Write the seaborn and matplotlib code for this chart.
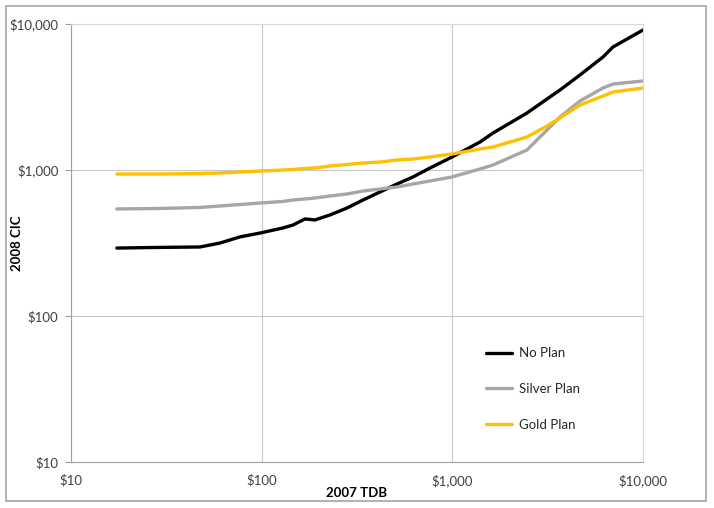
import numpy as np
import pandas as pd
import matplotlib
matplotlib.use("Agg")
import matplotlib.pyplot as plt
import matplotlib.ticker as mticker
from matplotlib.patches import Rectangle
import seaborn as sns

# ---- data ----
tdb_2007 = [17.4, 29.3, 47.5, 60.4, 76.9, 98.0, 129.4, 146.0, 168.7, 190.4,
            228.2, 280.3, 340.1, 417.4, 512.7, 621.9, 763.5, 996, 1397, 1634,
            2464, 3136, 3669, 4671, 6168, 6959, 10000]
no_plan = [292, 295, 297, 316, 348, 370, 401, 420, 462, 455,
           492, 549, 623, 707, 802, 896, 1032, 1227, 1555, 1792,
           2457, 3064, 3531, 4475, 5943, 6959, 9097]
silver_plan = [541, 545, 554, 567, 580, 594, 609, 623, 633, 643,
               664, 685, 718, 741, 765, 802, 841, 896, 1016, 1082,
               1371, 1879, 2307, 2969, 3645, 3882, 4071]
gold_plan = [939, 939, 946, 954, 969, 984, 1000, 1008, 1024, 1032,
             1065, 1091, 1117, 1134, 1171, 1189, 1227, 1287, 1393, 1437,
             1683, 2001, 2271, 2787, 3212, 3421, 3645]
series_names = ["No Plan", "Silver Plan", "Gold Plan"]
series_colors = ["#000000", "#a6a6a6", "#ffc000"]
x_ticks = [10, 100, 1000, 10000]
x_tick_labels = ["$10", "$100", "$1,000", "$10,000"]
y_ticks = [10, 100, 1000, 10000]
y_tick_labels = ["$10", "$100", "$1,000", "$10,000"]

df = pd.concat([
    pd.DataFrame({"TDB": tdb_2007, "CIC": vals, "Plan": name})
    for name, vals in zip(series_names, [no_plan, silver_plan, gold_plan])
])

sns.set_theme(style="white")
plt.rcParams["font.family"] = ["Lato", "DejaVu Sans"]

fig = plt.figure(figsize=(7.14, 5.08), dpi=100)
ax = fig.add_axes([71/714, 1 - 462/508, (643 - 71)/714, (462 - 24)/508])

sns.lineplot(data=df, x="TDB", y="CIC", hue="Plan", hue_order=series_names,
             palette=dict(zip(series_names, series_colors)), estimator=None,
             sort=True, linewidth=2.4, ax=ax)

ax.set_xscale("log")
ax.set_yscale("log")
ax.set_xlim(10, 10000)
ax.set_ylim(10, 10000)
ax.xaxis.set_major_locator(mticker.FixedLocator(x_ticks))
ax.yaxis.set_major_locator(mticker.FixedLocator(y_ticks))
ax.xaxis.set_minor_locator(mticker.NullLocator())
ax.yaxis.set_minor_locator(mticker.NullLocator())
ax.set_xticklabels(x_tick_labels)
ax.set_yticklabels(y_tick_labels)
ax.tick_params(axis="both", labelsize=9.5, colors="#404040", labelcolor="#404040")
ax.tick_params(axis="x", length=0, pad=9)
ax.tick_params(axis="y", length=4, width=0.8, color="#a0a0a0", pad=5, left=True)

ax.grid(True, which="major", color="#c8c8c8", linewidth=0.8)
ax.set_axisbelow(True)
for side in ["top", "right"]:
    ax.spines[side].set_color("#d9d9d9")
    ax.spines[side].set_linewidth(0.8)
for side in ["left", "bottom"]:
    ax.spines[side].set_color("#a0a0a0")
    ax.spines[side].set_linewidth(0.8)

ax.set_xlabel("2007 TDB", fontsize=9.5, fontweight="bold", color="#000000")
ax.set_ylabel("2008 CIC", fontsize=9.5, fontweight="bold", color="#000000")
ax.xaxis.set_label_coords(0.5, -0.0708)
ax.xaxis.label.set_verticalalignment("center")
ax.yaxis.set_label_coords(-0.094, 0.5)
ax.yaxis.label.set_verticalalignment("center")

leg = ax.legend(loc="upper left", bbox_to_anchor=(0.7255, 0.262), frameon=False,
                fontsize=9.5, handlelength=2.0, handletextpad=0.5, labelspacing=1.8,
                borderpad=0, borderaxespad=0, title=None)
for line in leg.get_lines():
    line.set_linewidth(2.4)
for t in leg.get_texts():
    t.set_color("#262626")

# outer chart-area border
fig.patches.append(Rectangle((6/714, 1 - 501/508), (706 - 6)/714, (501 - 6)/508,
                             transform=fig.transFigure, fill=False,
                             edgecolor="#a6a6a6", linewidth=1.2))

fig.savefig("out.png", dpi=100)
